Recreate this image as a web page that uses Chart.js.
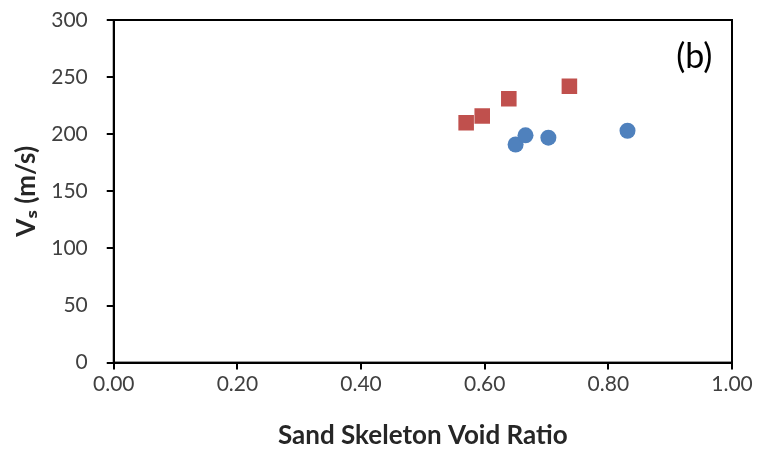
<!DOCTYPE html>
<html>
<head>
<meta charset="utf-8">
<script src="https://cdn.jsdelivr.net/npm/chart.js@4/dist/chart.umd.min.js"></script>
<style>
  html, body { margin: 0; padding: 0; background: #fff; }
  #wrap { width: 763px; height: 452px; }
</style>
</head>
<body>
<div id="wrap"><canvas id="vsChart"></canvas></div>
<script>
// void ratio / shear wave velocity
var squareX = [0.570, 0.596, 0.639, 0.737];
var squareY = [210, 216, 231, 242];
var circleX = [0.650, 0.666, 0.703, 0.831];
var circleY = [191, 199, 197, 203];

var panelLabel = "(b)";
var xTitle = "Sand Skeleton Void Ratio";
var yTitle = "Vₛ (m/s)";

function toPoints(xs, ys) {
    var pts = [];
    for (let i = 0; i < xs.length; i++) {
        pts.push({x: xs[i], y: ys[i]});
    }
    return pts;
}

// full black frame round the plot + panel letter
var frame = {
    id: 'frame',
    afterDraw: function(chart) {
        var a = chart.chartArea;
        var ctx = chart.ctx;
        ctx.save();
        ctx.strokeStyle = '#000';
        ctx.lineWidth = 2;
        ctx.strokeRect(a.left, a.top, a.right - a.left, a.bottom - a.top);
        ctx.fillStyle = '#000';
        ctx.font = '34px Lato, "Open Sans", sans-serif';
        ctx.textAlign = 'center';
        ctx.textBaseline = 'middle';
        ctx.fillText(panelLabel, chart.scales.x.getPixelForValue(0.939), chart.scales.y.getPixelForValue(268));
        ctx.restore();
    }
};

const config = {
    type: 'scatter',
    data: {
        datasets: [{
            data: toPoints(squareX, squareY),
            pointStyle: 'rect',
            pointRadius: 11,
            backgroundColor: '#C0504D',
            borderColor: '#C0504D',
            borderWidth: 0
        }, {
            data: toPoints(circleX, circleY),
            pointStyle: 'circle',
            pointRadius: 8,
            backgroundColor: '#4F81BD',
            borderColor: '#4F81BD',
            borderWidth: 0
        }]
    },
    options: {
        responsive: true,
        maintainAspectRatio: false,
        animation: false,
        layout: { padding: { left: 11, right: 31, top: 0, bottom: 1 } },
        plugins: {
            legend: { display: false },
            tooltip: { enabled: false }
        },
        scales: {
            x: {
                type: 'linear',
                min: 0,
                max: 1,
                ticks: {
                    stepSize: 0.2,
                    color: '#404040',
                    font: { family: 'Lato, "Open Sans", sans-serif', size: 21 },
                    padding: 2,
                    callback: function(v) { return v.toFixed(2); }
                },
                grid: { drawOnChartArea: false, color: '#000', lineWidth: 2, tickLength: 7 },
                border: { color: '#000', width: 2 },
                title: {
                    display: true,
                    text: xTitle,
                    color: '#262626',
                    font: { family: 'Lato, "Open Sans", sans-serif', size: 26, weight: 'bold' },
                    padding: { top: 21, bottom: 0 }
                }
            },
            y: {
                type: 'linear',
                min: 0,
                max: 300,
                afterFit: function(scale) {
                    // the big label padding would otherwise push the plot top down
                    scale.paddingTop = 20;
                },
                ticks: {
                    stepSize: 50,
                    color: '#404040',
                    font: { family: 'Lato, "Open Sans", sans-serif', size: 21 },
                    padding: 19
                },
                grid: { drawOnChartArea: false, color: '#000', lineWidth: 2, tickLength: 7 },
                border: { color: '#000', width: 2 },
                title: {
                    display: true,
                    text: yTitle,
                    color: '#262626',
                    font: { family: 'Lato, "Open Sans", sans-serif', size: 26, weight: 'bold' },
                    padding: { top: 0, bottom: -10 }
                }
            }
        }
    },
    plugins: [frame]
};

new Chart(document.getElementById("vsChart"), config);
</script>
</body>
</html>
